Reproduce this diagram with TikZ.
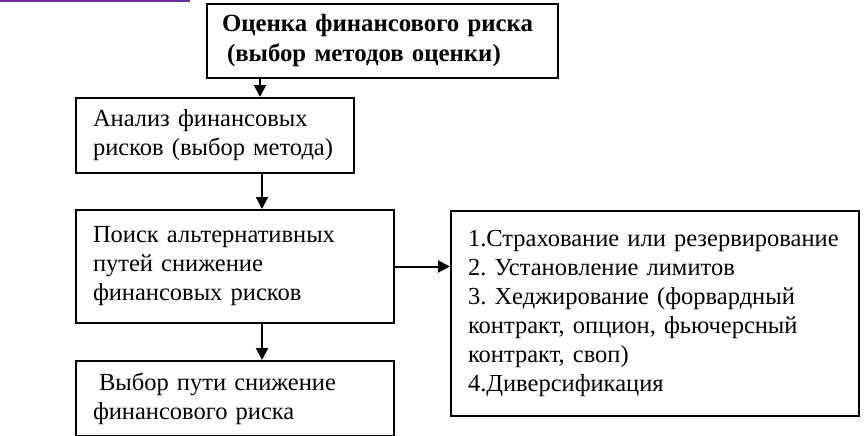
\documentclass[tikz,border=0pt]{standalone}
\usepackage{fontspec}
\setmainfont{Liberation Serif}
\usetikzlibrary{arrows.meta,calc}
\definecolor{topline}{RGB}{112,48,160}
\frenchspacing
\begin{document}
\begin{tikzpicture}[x=1pt,y=-1pt,
  box/.style={draw,line width=2pt,rectangle,inner xsep=17pt,inner ysep=0pt,
    align=left,anchor=north west,font=\fontsize{24.5}{29}\selectfont},
  arr/.style={line width=2pt,-{Triangle[length=12pt,width=12pt]}}]
\useasboundingbox (0,0) rectangle (864,436);
\draw[topline,line width=3pt] (0,1) -- (190,1);
\node[box,inner xsep=15pt,minimum width=351pt,minimum height=74pt,text width=321pt,
  font=\bfseries\fontsize{24.8}{30}\selectfont] (top) at (206,3)
  {\mbox{Оценка финансового риска}\\\mbox{\hspace*{5pt}(выбор методов оценки)}};
\node[box,minimum width=278pt,minimum height=75pt,text width=244pt] (anal) at (75,97)
  {Анализ финансовых\\рисков (выбор метода)};
\node[box,minimum width=318pt,minimum height=113pt,text width=284pt] (poisk) at (75,209)
  {Поиск альтернативных\\путей снижение\\финансовых рисков};
\node[box,minimum width=318pt,minimum height=75pt,text width=284pt] (vybor) at (75,360)
  {\hspace*{6pt}Выбор пути снижение\\финансового риска};
\node[box,minimum width=408pt,minimum height=205pt,text width=374pt] (list) at (450,210)
  {1.Страхование или резервирование\\2. Установление лимитов\\3. Хеджирование (форвардный\\контракт, опцион, фьючерсный\\контракт, своп)\\4.Диверсификация};
\coordinate (xa) at (260,0);
\coordinate (xb) at (262,0);
\draw[arr] (top.south -| xa) -- (anal.north -| xa);
\draw[arr] (anal.south -| xb) -- (poisk.north -| xb);
\draw[arr] (poisk.south -| xb) -- (vybor.north -| xb);
\draw[arr] (poisk.east) -- (poisk.east -| list.west);
\end{tikzpicture}
\end{document}
